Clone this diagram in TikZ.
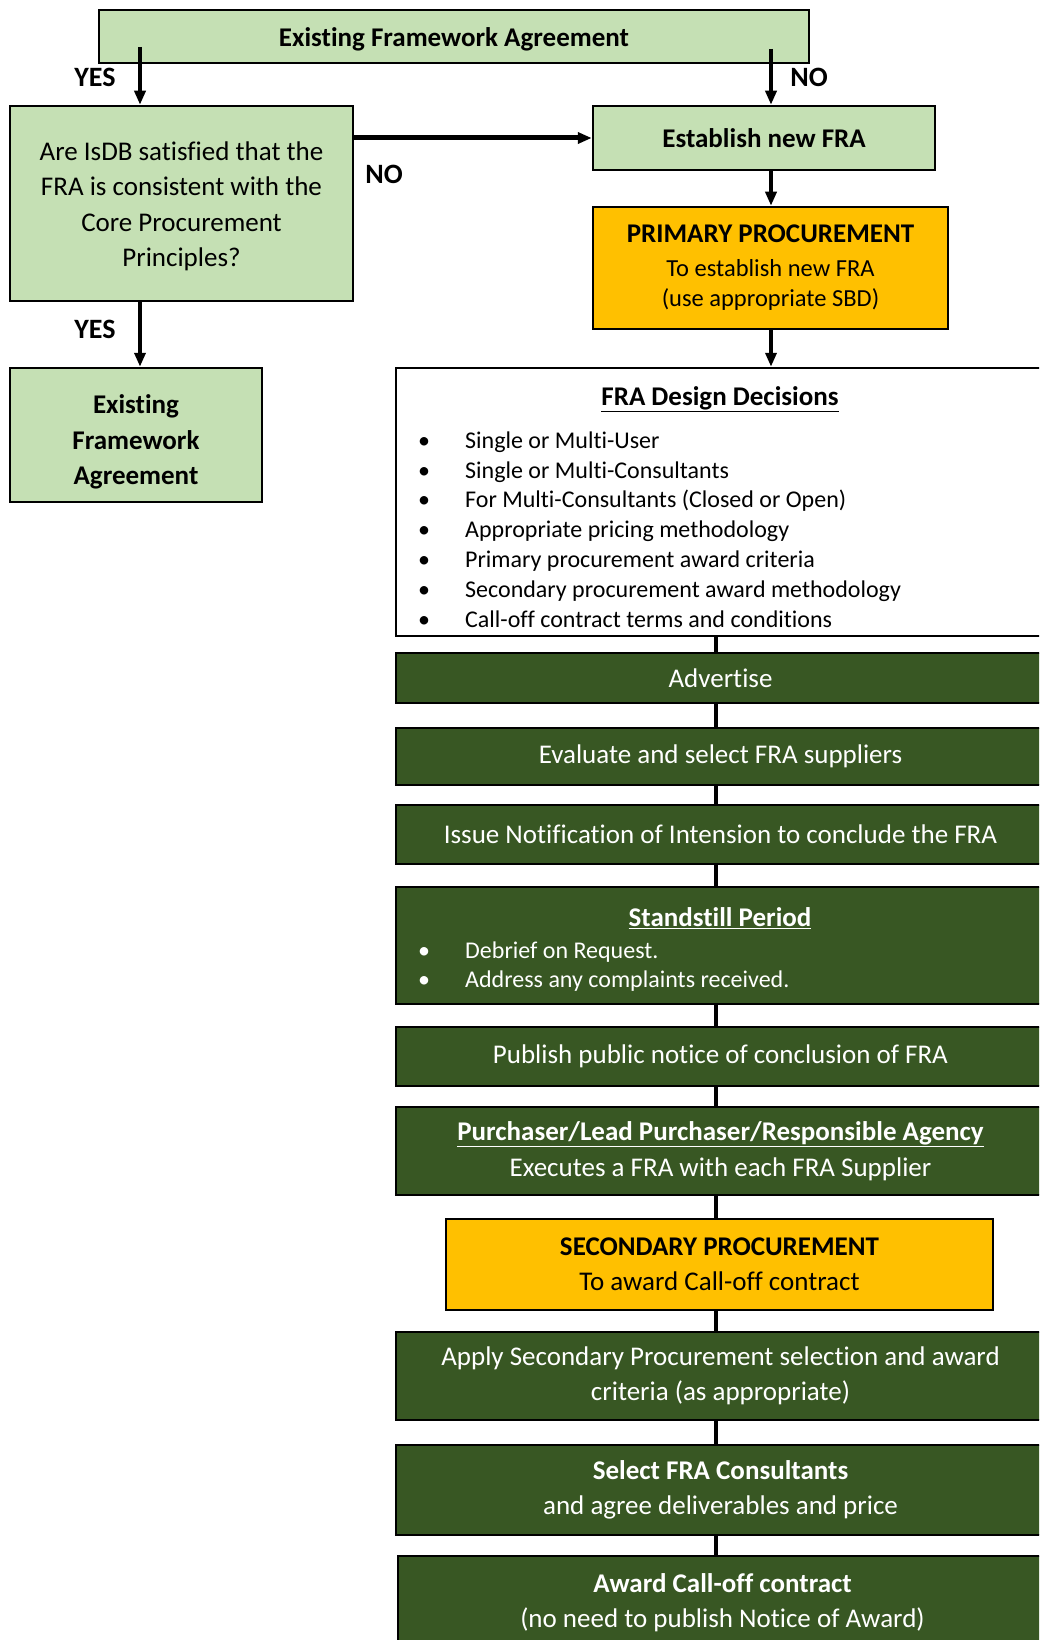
\documentclass[tikz,border=0pt]{standalone}
\usepackage{fontspec}
\setmainfont{Carlito}[Ligatures={NoCommon}]
\usetikzlibrary{arrows.meta,calc}
\definecolor{lgreen}{HTML}{C5E0B4}
\definecolor{dgreen}{HTML}{385723}
\definecolor{gold}{HTML}{FFC000}
\newcommand{\bul}{\makebox[47pt][l]{•}}
\begin{document}
\begin{tikzpicture}[x=1pt,y=-1pt,
  box/.style={draw=black, line width=2.5pt, inner sep=0pt, align=center},
  lg/.style={box, fill=lgreen},
  dg/.style={box, fill=dgreen, text=white, minimum width=649pt},
  og/.style={box, fill=gold},
  arr/.style={line width=3.5pt, -{Triangle[length=14pt,width=11pt]}},
  conn/.style={line width=4pt},
  lbl/.style={font=\bfseries\fontsize{28}{30}\selectfont, inner sep=0pt},
  txt/.style={font=\fontsize{27}{35}\selectfont},
  btxt/.style={font=\bfseries\fontsize{27}{35}\selectfont},
  lst/.style={anchor=west, align=left, inner sep=0pt}]
\clip (0,0) rectangle (1039,1640);
\fill[white] (0,0) rectangle (1039,1640);

% top part
\node[lg, minimum width=710pt, minimum height=53pt] (top) at (454,36.5) {};
\node[btxt, inner sep=0pt] (toptxt) at (454,39) {Existing Framework Agreement};
\node[lg, minimum width=343pt, minimum height=195pt] (q) at (181.5,203.5) {};
\node[font=\fontsize{27}{35.5}\selectfont, align=center, inner sep=0pt] (qtxt) at (181.5,206.5)
  {Are IsDB satisfied that the\\FRA is consistent with the\\Core Procurement\\Principles?};
\node[lg, minimum width=342pt, minimum height=64pt, btxt] (est) at (764,138) {Establish new FRA};
\node[og, minimum width=355pt, minimum height=122pt, font=\fontsize{24.5}{30}\selectfont] (prim) at (770.5,268)
  {{\bfseries\fontsize{27}{30}\selectfont PRIMARY PROCUREMENT}\\[4pt]To establish new FRA\\(use appropriate SBD)};
\node[lg, minimum width=252pt, minimum height=134pt] (exist) at (136,435) {};
\node[font=\bfseries\fontsize{27}{35.5}\selectfont, align=center, inner sep=0pt] (existtxt) at (136,442)
  {Existing\\Framework\\Agreement};

% design decisions
\node[box, fill=white, minimum width=649pt, minimum height=268pt] (design) at (720.5,502) {};
\node[btxt, inner sep=0pt] (dtitle) at (720,399) {\underline{FRA Design Decisions}};
\node[lst, font=\fontsize{24}{29.8}\selectfont] (dlist) at (418,529.5)
  {\bul Single or Multi-User\\
   \bul Single or Multi-Consultants\\
   \bul For Multi-Consultants (Closed or Open)\\
   \bul Appropriate pricing methodology\\
   \bul Primary procurement award criteria\\
   \bul Secondary procurement award methodology\\
   \bul Call-off contract terms and conditions};

% green chain
\node[dg, minimum height=50pt, txt] (adv) at (720.5,678) {Advertise};
\node[dg, minimum height=57pt, txt] (eval) at (720.5,756.5) {Evaluate and select FRA suppliers};
\node[dg, minimum height=59pt, txt] (issue) at (720.5,834.5) {Issue Notification of Intension to conclude the FRA};
\node[dg, minimum height=117pt] (stand) at (720.5,945.5) {};
\node[btxt, text=white, inner sep=0pt] (stitle) at (720,918) {\underline{Standstill Period}};
\node[lst, text=white, font=\fontsize{24}{29}\selectfont] (slist) at (418,966.5)
  {\bul Debrief on Request.\\
   \bul Address any complaints received.};
\node[dg, minimum height=59pt, txt] (pub) at (720.5,1056.5) {Publish public notice of conclusion of FRA};
\node[dg, minimum height=88pt, font=\fontsize{27}{36}\selectfont] (purch) at (720.5,1151)
  {\underline{\textbf{Purchaser/Lead Purchaser/Responsible Agency}}\\Executes a FRA with each FRA Supplier};
\node[og, minimum width=547pt, minimum height=91pt, font=\fontsize{27}{35}\selectfont] (sec) at (719.5,1264.5)
  {\textbf{SECONDARY PROCUREMENT}\\To award Call-off contract};
\node[dg, minimum height=88pt, txt] (apply) at (720.5,1376)
  {Apply Secondary Procurement selection and award\\criteria (as appropriate)};
\node[dg, minimum height=90pt, txt] (sel) at (720.5,1490)
  {\textbf{Select FRA Consultants}\\and agree deliverables and price};
\node[dg, minimum height=94pt, txt] (award) at (722.5,1603)
  {\textbf{Award Call-off contract}\\(no need to publish Notice of Award)};

% connectors
\coordinate (cx) at (716,0);
\foreach \a/\b in {design/adv, adv/eval, eval/issue, issue/stand, stand/pub, pub/purch, purch/sec, sec/apply, apply/sel, sel/award}
  \draw[conn] (\a.south -| cx) -- (\b.north -| cx);

\coordinate (ys) at (140,47);
\coordinate (ns) at (771,49);
\draw[arr] (ys) -- (ys |- q.north);
\draw[arr] (ns) -- (ns |- est.north);
\draw[arr, line width=5pt] (q.east |- est.west) -- (est.west);
\draw[arr] (est.south -| ns) -- (prim.north -| ns);
\draw[arr] (prim.south -| ns) -- (design.north -| ns);
\draw[arr] (q.south -| ys) -- (exist.north -| ys);

% labels
\node[lbl] (yes1) at (95,77) {YES};
\node[lbl] (no1) at (809,77) {NO};
\node[lbl] (no2) at (384,174) {NO};
\node[lbl] (yes2) at (95,329) {YES};
\end{tikzpicture}
\end{document}
